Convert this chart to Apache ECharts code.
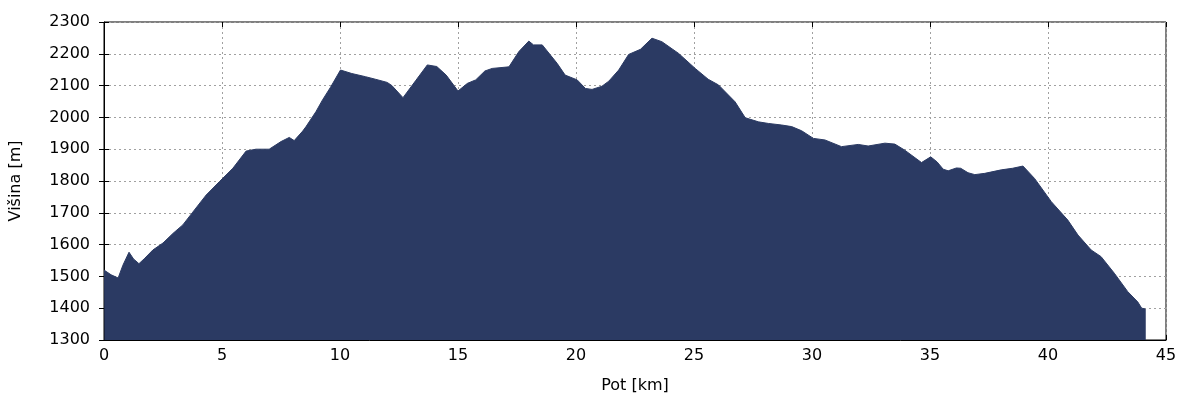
<!DOCTYPE html>
<html>
<head>
<meta charset="utf-8">
<script src="https://cdn.jsdelivr.net/npm/echarts@6/dist/echarts.min.js"></script>
<style>html,body{margin:0;padding:0;background:#fff}#c{width:1200px;height:400px}</style>
</head>
<body>
<div id="c"></div>
<script>
const distKm = [0,0.02,0.3,0.6,0.8,1.06,1.25,1.48,1.7,2.07,2.5,2.92,3.34,3.76,4.33,4.89,5.46,6.02,6.44,7.0,7.5,7.85,8.06,8.42,8.56,8.98,9.26,9.6,10.02,10.5,11.08,11.5,12.0,12.2,12.67,13.2,13.7,14.1,14.5,15.0,15.4,15.75,16.14,16.45,17.16,17.58,18.0,18.2,18.57,19.2,19.54,20.05,20.4,20.68,21.1,21.39,21.81,22.23,22.73,23.22,23.64,24.35,25.05,25.6,26.04,26.74,27.17,27.73,28.15,28.72,29.14,29.56,30.06,30.55,31.25,31.96,32.38,33.09,33.51,33.93,34.64,35.03,35.3,35.56,35.77,36.12,36.3,36.61,36.9,37.32,38.02,38.5,38.94,39.43,40.14,40.84,41.27,41.83,42.25,42.81,43.38,43.8,43.97,44.1];
const elevM = [1520,1515,1505,1495,1535,1576,1555,1540,1555,1583,1605,1635,1662,1702,1756,1798,1840,1894,1900,1900,1924,1937,1927,1957,1971,2018,2055,2095,2149,2138,2128,2120,2110,2100,2062,2115,2165,2160,2133,2083,2107,2118,2146,2154,2159,2207,2240,2228,2228,2170,2133,2118,2091,2088,2098,2114,2149,2198,2214,2249,2238,2201,2154,2120,2102,2049,1999,1986,1981,1976,1971,1958,1934,1929,1908,1915,1910,1919,1916,1897,1858,1876,1860,1837,1832,1841,1840,1826,1820,1824,1835,1840,1847,1808,1735,1677,1630,1583,1562,1510,1452,1420,1400,1398];
const xTicks = {min:0, max:45, interval:5};
const yTicks = {min:1300, max:2300, interval:100};
const xName = 'Pot [km]';
const yName = 'Višina [m]';

const data = distKm.map((d,i)=>[d, elevM[i]]);
const font = 'DejaVu Sans';
const fs = 16;
const fill = '#2b3a63';
const chart = echarts.init(document.getElementById('c'), null, {renderer:'canvas'});
const gridLine = {show:true, lineStyle:{color:'#a0a0a0', type:[2,3], width:1}};
const plain = v => String(v);
chart.setOption({
  animation:false,
  backgroundColor:'#fff',
  grid:{left:101, right:34, top:22, bottom:60, show:true, borderColor:'#000', borderWidth:1},
  xAxis:[{
    type:'value', min:xTicks.min, max:xTicks.max, interval:xTicks.interval,
    name:xName, nameLocation:'middle', nameGap:38,
    nameTextStyle:{fontFamily:font, fontSize:fs, color:'#000'},
    axisLine:{show:true, lineStyle:{color:'#000', width:1}},
    axisTick:{show:true, inside:true, length:5, lineStyle:{color:'#000'}},
    axisLabel:{fontFamily:font, fontSize:fs, color:'#000', margin:8, formatter:plain},
    splitLine:gridLine
  },{
    type:'value', position:'top', min:xTicks.min, max:xTicks.max, interval:xTicks.interval,
    axisLine:{show:false}, axisTick:{show:true, inside:true, length:5, lineStyle:{color:'#000'}},
    axisLabel:{show:false}, splitLine:{show:false}
  }],
  yAxis:[{
    type:'value', min:yTicks.min, max:yTicks.max, interval:yTicks.interval,
    name:yName, nameLocation:'middle', nameGap:80, nameRotate:90,
    nameTextStyle:{fontFamily:font, fontSize:fs, color:'#000'},
    axisLine:{show:true, lineStyle:{color:'#000', width:1}},
    axisTick:{show:true, inside:true, length:5, lineStyle:{color:'#000'}},
    axisLabel:{fontFamily:font, fontSize:fs, color:'#000', margin:14, formatter:plain},
    splitLine:gridLine
  },{
    type:'value', position:'right', min:yTicks.min, max:yTicks.max, interval:yTicks.interval,
    axisLine:{show:false}, axisTick:{show:true, inside:true, length:5, lineStyle:{color:'#000'}},
    axisLabel:{show:false}, splitLine:{show:false}
  }],
  series:[{
    type:'line', data:data, showSymbol:false, symbol:'none',
    lineStyle:{color:fill, width:1},
    areaStyle:{color:fill, opacity:1, origin:'start'},
    z:1
  },{
    type:'line', data:[[distKm[distKm.length-1], yTicks.min],[distKm[distKm.length-1], elevM[elevM.length-1]]],
    showSymbol:false, symbol:'none', lineStyle:{color:fill, width:2}, z:1
  }]
});
</script>
</body>
</html>
